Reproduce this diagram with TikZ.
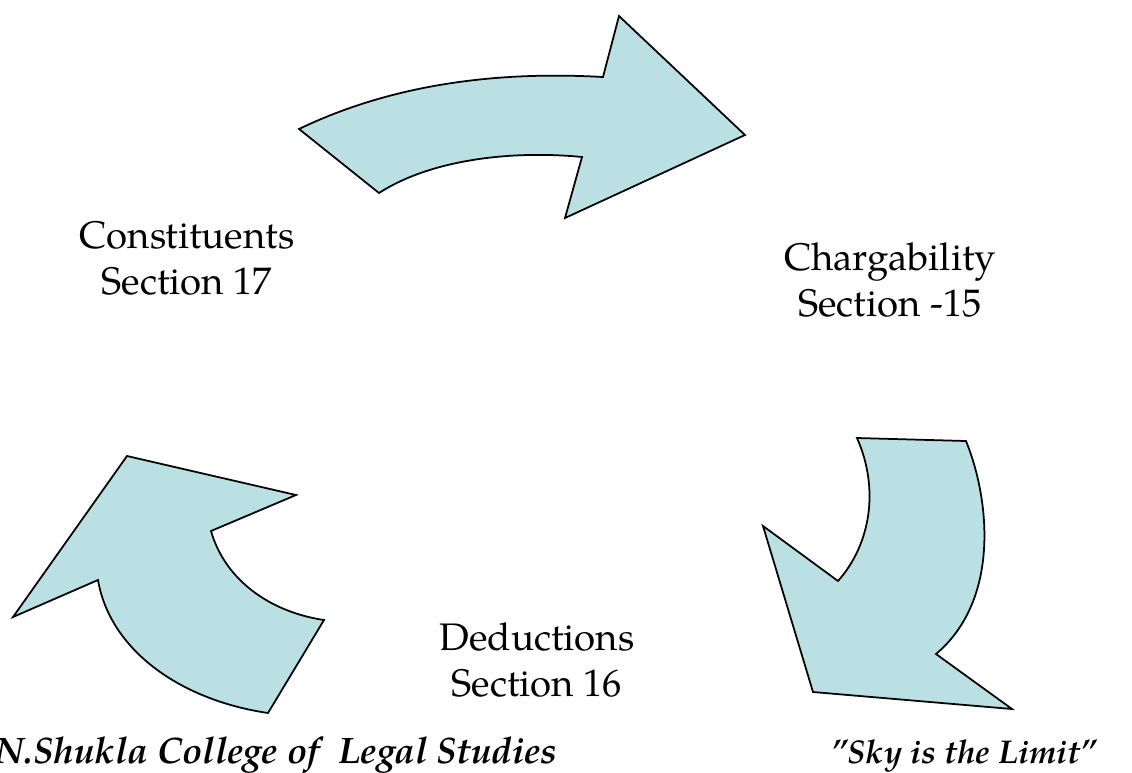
\documentclass[tikz,border=0pt]{standalone}
\usepackage{fontspec}
\setmainfont{TeX Gyre Pagella}
\begin{document}
\begin{tikzpicture}[x=0.025cm,y=-0.025cm,
  bentarrow/.style={draw=black,fill=arrowfill,line width=1.25pt,line join=miter},
  label/.style={align=center,font=\fontsize{27.3}{33}\selectfont},
  footer/.style={font=\fontsize{25}{30}\selectfont\bfseries\itshape}]
\definecolor{arrowfill}{HTML}{BBE0E3}
\useasboundingbox (0,0) rectangle (1132,772);

% upper arrow, pointing right
\draw[bentarrow] (299,129) .. controls (380,90) and (480,70) .. (603,77)
  -- (619,16) -- (745,135) -- (565,218) -- (582,157)
  .. controls (510,150) and (430,160) .. (379,193) -- cycle;

% right arrow, pointing down-left
\draw[bentarrow] (857,438) -- (966,441)
  .. controls (990,500) and (1000,600) .. (936,654)
  -- (1012,709) -- (813,692) -- (763,526) -- (838,581)
  .. controls (870,545) and (880,490) .. (857,438) -- cycle;

% left arrow, pointing up
\draw[bentarrow] (127,456) -- (296,495) -- (211,531)
  .. controls (225,580) and (270,612) .. (324,620)
  -- (268,713) .. controls (180,700) and (110,650) .. (98,580)
  -- (13,617) -- cycle;

\node[label] (constituents) at (187,258) {Constituents\\Section 17};
\node[label] (chargability) at (890,280) {Chargability\\Section -15};
\node[label] (deductions) at (537,660) {Deductions\\Section 16};

\node[footer,font=\fontsize{26.2}{30}\selectfont\bfseries\itshape,anchor=base east] (college) at (562,763) {R.N.Shukla College of~ Legal Studies};
\node[footer,font=\fontsize{23.4}{28}\selectfont\bfseries\itshape,anchor=base east] (motto) at (1102,763) {"Sky is the Limit"};
\end{tikzpicture}
\end{document}
